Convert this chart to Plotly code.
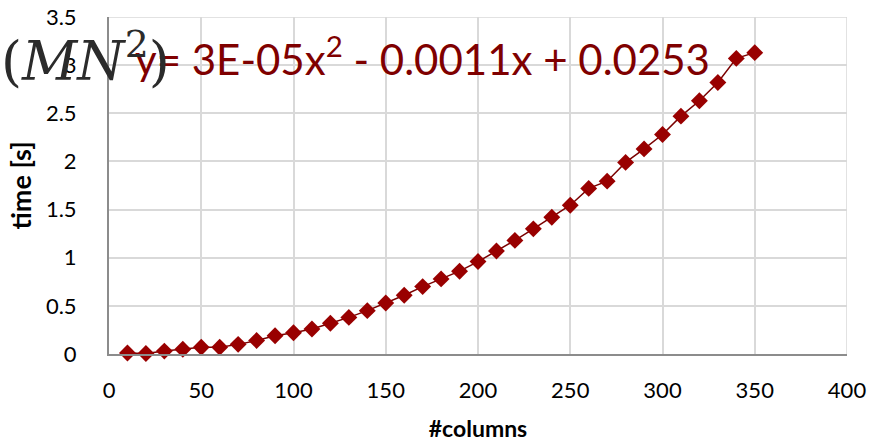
import plotly.graph_objects as go

columns = [10, 20, 30, 40, 50, 60, 70, 80, 90, 100, 110, 120, 130, 140, 150, 160, 170, 180,
           190, 200, 210, 220, 230, 240, 250, 260, 270, 280, 290, 300, 310, 320, 330, 340, 350]
time_s = [0.01, 0.005, 0.03, 0.05, 0.07, 0.07, 0.10, 0.14, 0.19, 0.22, 0.26, 0.32, 0.38, 0.45,
          0.53, 0.61, 0.70, 0.78, 0.86, 0.96, 1.07, 1.18, 1.30, 1.42, 1.545, 1.72, 1.795, 1.99,
          2.13, 2.28, 2.47, 2.63, 2.82, 3.07, 3.13]
x_ticks = [0, 50, 100, 150, 200, 250, 300, 350, 400]
y_ticks = [0, 0.5, 1, 1.5, 2, 2.5, 3, 3.5]
y_tick_labels = ["0", "0.5", "1", "1.5", "2", "2.5", "3", "3.5"]

fig = go.Figure()
fig.add_trace(go.Scatter(
    x=columns, y=time_s, mode="lines+markers",
    line=dict(color="#7a0000", width=1.5),
    marker=dict(symbol="diamond", size=13, color="#990000"),
    showlegend=False, cliponaxis=False,
))

tick_font = dict(family="Lato, Carlito, sans-serif", size=22, color="#000000")
fig.update_layout(
    width=885, height=442,
    margin=dict(l=109, r=38, t=17, b=88),
    paper_bgcolor="white", plot_bgcolor="white",
    xaxis=dict(range=[0, 400], tickvals=x_ticks, ticktext=[str(v) for v in x_ticks],
               automargin=False,
               showgrid=True, gridcolor="#d9d9d9", gridwidth=1.5,
               showline=True, linecolor="#8c8c8c", linewidth=2,
               zeroline=False, ticks="", ticklabelstandoff=16, tickfont=tick_font,
               title=dict(text="<b>#columns</b>", font=dict(family="Lato, sans-serif", size=23, color="#000"), standoff=21)),
    yaxis=dict(range=[0, 3.5], tickvals=y_ticks, ticktext=y_tick_labels,
               automargin=False,
               showgrid=True, gridcolor="#d9d9d9", gridwidth=1.5,
               showline=True, linecolor="#8c8c8c", linewidth=2,
               zeroline=False, ticks="", ticklabelstandoff=26, tickfont=tick_font,
               title=dict(text="<b>time [s]</b>", font=dict(family="Lato, sans-serif", size=27, color="#000"), standoff=6)),
)
fig.add_shape(type="line", xref="x", yref="paper", x0=400, x1=400, y0=0, y1=1,
              line=dict(color="#d9d9d9", width=1.5), layer="below")
fig.add_shape(type="line", xref="paper", yref="y", x0=0, x1=1, y0=3.5, y1=3.5,
              line=dict(color="#d9d9d9", width=1.5), layer="below")

fig.add_annotation(text="y= 3E-05x<sup>2</sup> - 0.0011x + 0.0253",
                   xref="paper", yref="paper", x=(133 - 109) / 738, y=(354 - 56) / 337,
                   xanchor="left", yanchor="middle", showarrow=False,
                   font=dict(family="Lato, sans-serif", size=42, color="#7f0000"))
fig.add_annotation(text="(<i>MN</i><sup>2</sup>)",
                   xref="paper", yref="paper", x=-110 / 738, y=(354 - 58) / 337,
                   xanchor="left", yanchor="middle", showarrow=False,
                   font=dict(family="DejaVu Serif, serif", size=54, color="#2b2b2b"))

fig.write_html("out.html")
